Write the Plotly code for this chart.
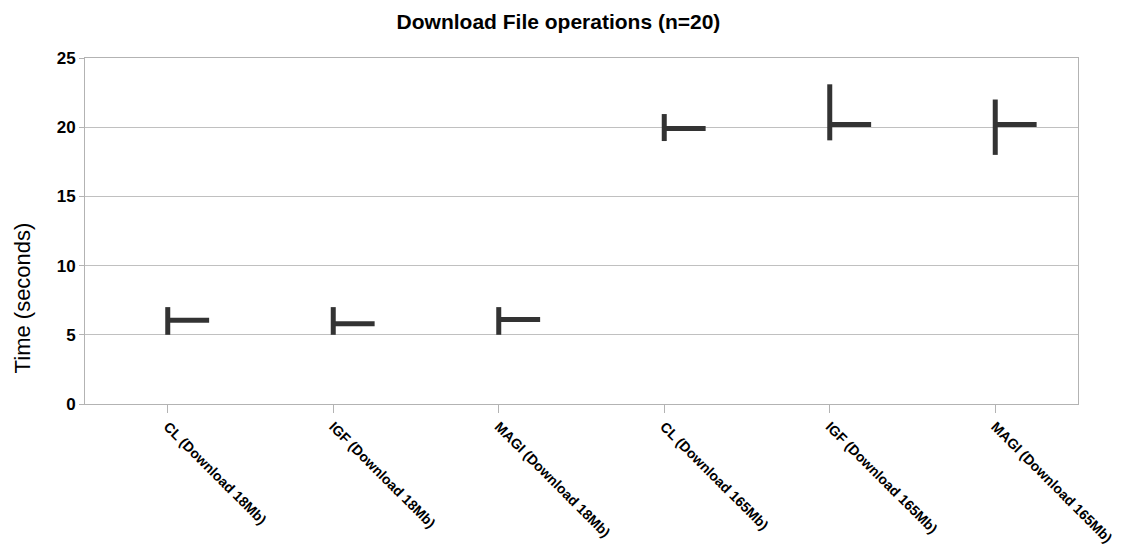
import plotly.graph_objects as go

categories = ["CL (Download 18Mb)", "IGF (Download 18Mb)", "MAGI (Download 18Mb)",
              "CL (Download 165Mb)", "IGF (Download 165Mb)", "MAGI (Download 165Mb)"]
low_vals = [5.0, 5.0, 5.0, 19.0, 19.05, 18.0]
high_vals = [7.0, 7.0, 7.0, 20.95, 23.1, 22.0]
close_vals = [6.05, 5.8, 6.1, 19.9, 20.2, 20.2]

positions = list(range(len(categories)))
tick_len = 0.25

vx, vy, cx, cy = [], [], [], []
for p, lo, hi, c in zip(positions, low_vals, high_vals, close_vals):
    vx += [p, p, None]
    vy += [lo, hi, None]
    cx += [p, p + tick_len, None]
    cy += [c, c, None]

fig = go.Figure()
fig.add_trace(go.Scatter(x=vx, y=vy, mode="lines",
                         line=dict(color="#333333", width=5), showlegend=False,
                         hoverinfo="skip"))
fig.add_trace(go.Scatter(x=cx, y=cy, mode="lines",
                         line=dict(color="#333333", width=5), showlegend=False,
                         hoverinfo="skip"))

fig.add_annotation(text="Time (seconds)", textangle=-90, showarrow=False,
                   xref="paper", yref="paper", x=-0.0635, y=0.308,
                   xanchor="center", yanchor="middle",
                   font=dict(size=22, color="black"))

fig.update_layout(
    width=1115, height=540,
    margin=dict(l=77, r=45, t=50, b=144, autoexpand=False),
    paper_bgcolor="white", plot_bgcolor="white",
    font=dict(family="Liberation Sans, Arial, sans-serif", color="black"),
    title=dict(text="<b>Download File operations (n=20)</b>", x=0.4937, xanchor="center",
               xref="container", yref="container", y=0.975, yanchor="middle",
               automargin=False, font=dict(size=21, color="black")),
    xaxis=dict(range=[-0.5, 5.5], tickmode="array", tickvals=positions,
               ticktext=["<b>%s</b>" % c for c in categories], tickangle=45,
               tickfont=dict(size=14, color="black"), automargin=False,
               ticks="outside", ticklen=8, tickcolor="#b3b3b3",
               showgrid=False, zeroline=False,
               showline=True, linecolor="#b3b3b3", linewidth=1, mirror=True),
    yaxis=dict(range=[0, 25], tickvals=[0, 5, 10, 15, 20, 25],
               ticktext=["<b>%d</b>" % v for v in [0, 5, 10, 15, 20, 25]],
               tickfont=dict(size=17, color="black"), automargin=False,
               ticks="outside", ticklen=5, tickcolor="#b3b3b3",
               showgrid=True, gridcolor="#c0c0c0", gridwidth=1, zeroline=False,
               showline=True, linecolor="#b3b3b3", linewidth=1, mirror=True),
)

fig.write_html("out.html")
